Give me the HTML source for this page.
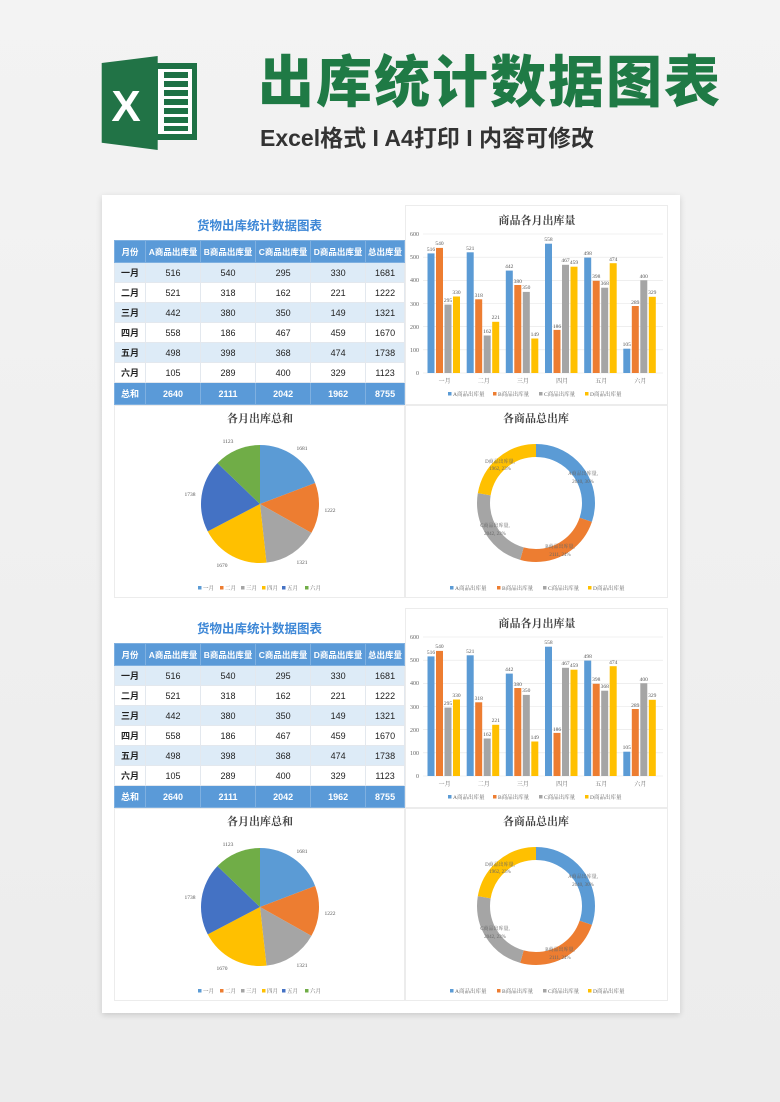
<!DOCTYPE html>
<html><head><meta charset="utf-8"><style>
*{margin:0;padding:0;box-sizing:border-box}
body{width:780px;height:1102px;background:linear-gradient(#f3f3f3,#ececec);position:relative;overflow:hidden;font-family:"Liberation Sans","Noto Sans CJK SC",sans-serif}
.abs{position:absolute}
.paper{left:102px;top:195px;width:578px;height:818px;background:#fff;box-shadow:0 2px 6px rgba(0,0,0,.15)}
.blk{position:absolute;left:0;width:780px;height:400px}
.ttl{position:absolute;left:114px;width:291px;text-align:center;font-size:12.5px;font-weight:bold;color:#3d87d6;top:10px}
table{position:absolute;left:114px;top:35px;width:291px;border-collapse:collapse;font-size:9px;color:#222}
td{text-align:center;height:20px;border:1px solid #e3e8ee;padding:0}
tr.h td,tr.t td{background:#5a9ad8;color:#fff;font-weight:bold;height:22px;border-color:#7fb0e0}
tr.h td{font-size:8.5px}
tr.a td{background:#ddebf7}
td:first-child{font-weight:bold}
svg text{font-family:"Liberation Serif","Noto Serif CJK SC",serif}
</style></head><body>
<svg class="abs" style="left:95px;top:50px" width="110" height="105" viewBox="95 50 110 105">
<rect x="150" y="63" width="47" height="77" fill="#1e7145"/>
<rect x="158" y="69" width="34" height="65" fill="#fff"/>
<g fill="#1e7145"><rect x="164" y="72" width="24" height="6"/><rect x="164" y="81" width="24" height="6"/><rect x="164" y="90" width="24" height="6"/><rect x="164" y="99" width="24" height="6"/><rect x="164" y="108" width="24" height="6"/><rect x="164" y="117" width="24" height="6"/><rect x="164" y="126" width="24" height="5"/></g>
<polygon points="101.7,63 157.7,56 157.7,150 101.7,142.7" fill="#217346"/>
<text x="126" y="121" font-size="44" fill="#fff" font-weight="bold" text-anchor="middle" style="font-family:'Liberation Sans',sans-serif">X</text>
</svg>
<div class="abs" style="left:258px;top:50px;font-size:56px;font-weight:900;color:#1f7a45;letter-spacing:2px;font-family:'Liberation Sans','Noto Sans CJK SC',sans-serif;line-height:66px">出库统计数据图表</div>
<div class="abs" style="left:260px;top:122px;font-size:23px;font-weight:bold;color:#333;line-height:32px">Excel格式 I A4打印 I 内容可修改</div>
<div class="abs paper"></div>

<div class="blk" style="top:205px">
<div class="ttl">货物出库统计数据图表</div>
<table>
<tr class="h"><td style="width:31px">月份</td><td>A商品出库量</td><td>B商品出库量</td><td>C商品出库量</td><td>D商品出库量</td><td>总出库量</td></tr>
<tr class="a"><td>一月</td><td>516</td><td>540</td><td>295</td><td>330</td><td>1681</td></tr>
<tr><td>二月</td><td>521</td><td>318</td><td>162</td><td>221</td><td>1222</td></tr>
<tr class="a"><td>三月</td><td>442</td><td>380</td><td>350</td><td>149</td><td>1321</td></tr>
<tr><td>四月</td><td>558</td><td>186</td><td>467</td><td>459</td><td>1670</td></tr>
<tr class="a"><td>五月</td><td>498</td><td>398</td><td>368</td><td>474</td><td>1738</td></tr>
<tr><td>六月</td><td>105</td><td>289</td><td>400</td><td>329</td><td>1123</td></tr>
<tr class="t"><td>总和</td><td>2640</td><td>2111</td><td>2042</td><td>1962</td><td>8755</td></tr>
</table>
<svg class="abs" style="left:405px;top:0" width="263" height="200">
<rect x="0.5" y="0.5" width="262" height="199" fill="none" stroke="#ececec"/>
<text x="132" y="19" font-size="11" text-anchor="middle" fill="#444" font-weight="bold">商品各月出库量</text>
<g stroke="#e4e4e4" stroke-width="0.6"><line x1="18" x2="258" y1="168" y2="168"/><line x1="18" x2="258" y1="144.8" y2="144.8"/><line x1="18" x2="258" y1="121.7" y2="121.7"/><line x1="18" x2="258" y1="98.5" y2="98.5"/><line x1="18" x2="258" y1="75.3" y2="75.3"/><line x1="18" x2="258" y1="52.2" y2="52.2"/><line x1="18" x2="258" y1="29" y2="29"/></g>
<g font-size="6" fill="#666" text-anchor="end" style="font-family:'Liberation Sans',sans-serif"><text x="14" y="170">0</text><text x="14" y="147">100</text><text x="14" y="124">200</text><text x="14" y="101">300</text><text x="14" y="77">400</text><text x="14" y="54">500</text><text x="14" y="31">600</text></g>
<g fill="#5b9bd5"><rect x="22.5" y="48.4" width="7" height="119.6"/><rect x="61.7" y="47.3" width="7" height="120.7"/><rect x="100.8" y="65.6" width="7" height="102.4"/><rect x="140" y="38.7" width="7" height="129.3"/><rect x="179.2" y="52.6" width="7" height="115.4"/><rect x="218.3" y="143.7" width="7" height="24.3"/></g>
<g fill="#ed7d31"><rect x="31" y="42.9" width="7" height="125.1"/><rect x="70.2" y="94.3" width="7" height="73.7"/><rect x="109.3" y="80" width="7" height="88"/><rect x="148.5" y="124.9" width="7" height="43.1"/><rect x="187.7" y="75.8" width="7" height="92.2"/><rect x="226.8" y="101" width="7" height="67"/></g>
<g fill="#a5a5a5"><rect x="39.5" y="99.6" width="7" height="68.4"/><rect x="78.7" y="130.5" width="7" height="37.5"/><rect x="117.8" y="86.9" width="7" height="81.1"/><rect x="157" y="59.8" width="7" height="108.2"/><rect x="196.2" y="82.7" width="7" height="85.3"/><rect x="235.3" y="75.3" width="7" height="92.7"/></g>
<g fill="#ffc000"><rect x="48" y="91.5" width="7" height="76.5"/><rect x="87.2" y="116.8" width="7" height="51.2"/><rect x="126.3" y="133.5" width="7" height="34.5"/><rect x="165.5" y="61.7" width="7" height="106.3"/><rect x="204.7" y="58.2" width="7" height="109.8"/><rect x="243.8" y="91.8" width="7" height="76.2"/></g>
<g font-size="5.5" fill="#555" text-anchor="middle" style="font-family:'Liberation Sans',sans-serif">
<text x="26" y="46">516</text><text x="65.2" y="45">521</text><text x="104.3" y="63">442</text><text x="143.5" y="36">558</text><text x="182.7" y="50">498</text><text x="221.8" y="141">105</text>
<text x="34.5" y="40">540</text><text x="73.7" y="92">318</text><text x="112.8" y="78">380</text><text x="152" y="123">186</text><text x="191.2" y="73">398</text><text x="230.3" y="99">289</text>
<text x="43" y="97">295</text><text x="82.2" y="128">162</text><text x="121.3" y="84">350</text><text x="160.5" y="57">467</text><text x="199.7" y="80">368</text><text x="238.8" y="73">400</text>
<text x="51.5" y="89">330</text><text x="90.7" y="114">221</text><text x="129.8" y="131">149</text><text x="169" y="59">459</text><text x="208.2" y="56">474</text><text x="247.3" y="89">329</text></g>
<g font-size="6" fill="#666" text-anchor="middle"><text x="39.6" y="178">一月</text><text x="78.8" y="178">二月</text><text x="117.9" y="178">三月</text><text x="157.1" y="178">四月</text><text x="196.3" y="178">五月</text><text x="235.4" y="178">六月</text></g>
<g font-size="5.5" fill="#666"><rect x="43" y="187" width="3.5" height="3.5" fill="#5b9bd5"/><text x="48" y="191">A商品出库量</text><rect x="88" y="187" width="3.5" height="3.5" fill="#ed7d31"/><text x="93" y="191">B商品出库量</text><rect x="134" y="187" width="3.5" height="3.5" fill="#a5a5a5"/><text x="139" y="191">C商品出库量</text><rect x="180" y="187" width="3.5" height="3.5" fill="#ffc000"/><text x="185" y="191">D商品出库量</text></g>
</svg>
<svg class="abs" style="left:114px;top:200px" width="291" height="193">
<rect x="0.5" y="0.5" width="290" height="192" fill="none" stroke="#ececec"/>
<text x="146" y="17" font-size="11" text-anchor="middle" fill="#444" font-weight="bold">各月出库总和</text>
<path d="M146,99L146,40A59,59 0 0 1 201.12,77.97Z" fill="#5b9bd5"/>
<path d="M146,99L201.12,77.97A59,59 0 0 1 197.42,127.93Z" fill="#ed7d31"/>
<path d="M146,99L197.42,127.93A59,59 0 0 1 152.48,157.64Z" fill="#a5a5a5"/>
<path d="M146,99L152.48,157.64A59,59 0 0 1 93.73,126.38Z" fill="#ffc000"/>
<path d="M146,99L93.73,126.38A59,59 0 0 1 103.42,58.16Z" fill="#4472c4"/>
<path d="M146,99L103.42,58.16A59,59 0 0 1 146,40Z" fill="#70ad47"/>
<g font-size="5.5" fill="#555" text-anchor="middle" style="font-family:'Liberation Sans',sans-serif"><text x="188" y="45">1681</text><text x="216" y="107">1222</text><text x="188" y="159">1321</text><text x="108" y="162">1670</text><text x="76" y="91">1738</text><text x="114" y="38">1123</text></g>
<g font-size="5.5" fill="#666"><rect x="84" y="181" width="3.5" height="3.5" fill="#5b9bd5"/><text x="89" y="185">一月</text><rect x="106" y="181" width="3.5" height="3.5" fill="#ed7d31"/><text x="111" y="185">二月</text><rect x="127" y="181" width="3.5" height="3.5" fill="#a5a5a5"/><text x="132" y="185">三月</text><rect x="148" y="181" width="3.5" height="3.5" fill="#ffc000"/><text x="153" y="185">四月</text><rect x="168" y="181" width="3.5" height="3.5" fill="#4472c4"/><text x="173" y="185">五月</text><rect x="191" y="181" width="3.5" height="3.5" fill="#70ad47"/><text x="196" y="185">六月</text></g>
</svg>
<svg class="abs" style="left:405px;top:200px" width="263" height="193">
<rect x="0.5" y="0.5" width="262" height="192" fill="none" stroke="#ececec"/>
<text x="131" y="17" font-size="11" text-anchor="middle" fill="#444" font-weight="bold">各商品总出库</text>
<g transform="rotate(-90 131 98)" fill="none" stroke-width="13">
<circle cx="131" cy="98" r="52.5" stroke="#5b9bd5" stroke-dasharray="99.47 400"/>
<circle cx="131" cy="98" r="52.5" stroke="#ed7d31" stroke-dasharray="0 99.47 79.54 400"/>
<circle cx="131" cy="98" r="52.5" stroke="#a5a5a5" stroke-dasharray="0 179.01 76.94 400"/>
<circle cx="131" cy="98" r="52.5" stroke="#ffc000" stroke-dasharray="0 255.95 73.92 400"/>
</g>
<g font-size="5" fill="#666" text-anchor="middle"><text x="95" y="58">D商品出库量,</text><text x="95" y="65">1962, 23%</text><text x="178" y="70">A商品出库量,</text><text x="178" y="78">2640, 30%</text><text x="90" y="122">C商品出库量,</text><text x="90" y="130">2042, 23%</text><text x="155" y="143">B商品出库量,</text><text x="155" y="151">2111, 24%</text></g>
<g font-size="5.5" fill="#666"><rect x="45" y="181" width="3.5" height="3.5" fill="#5b9bd5"/><text x="50" y="185">A商品出库量</text><rect x="92" y="181" width="3.5" height="3.5" fill="#ed7d31"/><text x="97" y="185">B商品出库量</text><rect x="138" y="181" width="3.5" height="3.5" fill="#a5a5a5"/><text x="143" y="185">C商品出库量</text><rect x="183" y="181" width="3.5" height="3.5" fill="#ffc000"/><text x="188" y="185">D商品出库量</text></g>
</svg>
</div>

<div class="blk" style="top:608px">
<div class="ttl">货物出库统计数据图表</div>
<table>
<tr class="h"><td style="width:31px">月份</td><td>A商品出库量</td><td>B商品出库量</td><td>C商品出库量</td><td>D商品出库量</td><td>总出库量</td></tr>
<tr class="a"><td>一月</td><td>516</td><td>540</td><td>295</td><td>330</td><td>1681</td></tr>
<tr><td>二月</td><td>521</td><td>318</td><td>162</td><td>221</td><td>1222</td></tr>
<tr class="a"><td>三月</td><td>442</td><td>380</td><td>350</td><td>149</td><td>1321</td></tr>
<tr><td>四月</td><td>558</td><td>186</td><td>467</td><td>459</td><td>1670</td></tr>
<tr class="a"><td>五月</td><td>498</td><td>398</td><td>368</td><td>474</td><td>1738</td></tr>
<tr><td>六月</td><td>105</td><td>289</td><td>400</td><td>329</td><td>1123</td></tr>
<tr class="t"><td>总和</td><td>2640</td><td>2111</td><td>2042</td><td>1962</td><td>8755</td></tr>
</table>
<svg class="abs" style="left:405px;top:0" width="263" height="200">
<rect x="0.5" y="0.5" width="262" height="199" fill="none" stroke="#ececec"/>
<text x="132" y="19" font-size="11" text-anchor="middle" fill="#444" font-weight="bold">商品各月出库量</text>
<g stroke="#e4e4e4" stroke-width="0.6"><line x1="18" x2="258" y1="168" y2="168"/><line x1="18" x2="258" y1="144.8" y2="144.8"/><line x1="18" x2="258" y1="121.7" y2="121.7"/><line x1="18" x2="258" y1="98.5" y2="98.5"/><line x1="18" x2="258" y1="75.3" y2="75.3"/><line x1="18" x2="258" y1="52.2" y2="52.2"/><line x1="18" x2="258" y1="29" y2="29"/></g>
<g font-size="6" fill="#666" text-anchor="end" style="font-family:'Liberation Sans',sans-serif"><text x="14" y="170">0</text><text x="14" y="147">100</text><text x="14" y="124">200</text><text x="14" y="101">300</text><text x="14" y="77">400</text><text x="14" y="54">500</text><text x="14" y="31">600</text></g>
<g fill="#5b9bd5"><rect x="22.5" y="48.4" width="7" height="119.6"/><rect x="61.7" y="47.3" width="7" height="120.7"/><rect x="100.8" y="65.6" width="7" height="102.4"/><rect x="140" y="38.7" width="7" height="129.3"/><rect x="179.2" y="52.6" width="7" height="115.4"/><rect x="218.3" y="143.7" width="7" height="24.3"/></g>
<g fill="#ed7d31"><rect x="31" y="42.9" width="7" height="125.1"/><rect x="70.2" y="94.3" width="7" height="73.7"/><rect x="109.3" y="80" width="7" height="88"/><rect x="148.5" y="124.9" width="7" height="43.1"/><rect x="187.7" y="75.8" width="7" height="92.2"/><rect x="226.8" y="101" width="7" height="67"/></g>
<g fill="#a5a5a5"><rect x="39.5" y="99.6" width="7" height="68.4"/><rect x="78.7" y="130.5" width="7" height="37.5"/><rect x="117.8" y="86.9" width="7" height="81.1"/><rect x="157" y="59.8" width="7" height="108.2"/><rect x="196.2" y="82.7" width="7" height="85.3"/><rect x="235.3" y="75.3" width="7" height="92.7"/></g>
<g fill="#ffc000"><rect x="48" y="91.5" width="7" height="76.5"/><rect x="87.2" y="116.8" width="7" height="51.2"/><rect x="126.3" y="133.5" width="7" height="34.5"/><rect x="165.5" y="61.7" width="7" height="106.3"/><rect x="204.7" y="58.2" width="7" height="109.8"/><rect x="243.8" y="91.8" width="7" height="76.2"/></g>
<g font-size="5.5" fill="#555" text-anchor="middle" style="font-family:'Liberation Sans',sans-serif">
<text x="26" y="46">516</text><text x="65.2" y="45">521</text><text x="104.3" y="63">442</text><text x="143.5" y="36">558</text><text x="182.7" y="50">498</text><text x="221.8" y="141">105</text>
<text x="34.5" y="40">540</text><text x="73.7" y="92">318</text><text x="112.8" y="78">380</text><text x="152" y="123">186</text><text x="191.2" y="73">398</text><text x="230.3" y="99">289</text>
<text x="43" y="97">295</text><text x="82.2" y="128">162</text><text x="121.3" y="84">350</text><text x="160.5" y="57">467</text><text x="199.7" y="80">368</text><text x="238.8" y="73">400</text>
<text x="51.5" y="89">330</text><text x="90.7" y="114">221</text><text x="129.8" y="131">149</text><text x="169" y="59">459</text><text x="208.2" y="56">474</text><text x="247.3" y="89">329</text></g>
<g font-size="6" fill="#666" text-anchor="middle"><text x="39.6" y="178">一月</text><text x="78.8" y="178">二月</text><text x="117.9" y="178">三月</text><text x="157.1" y="178">四月</text><text x="196.3" y="178">五月</text><text x="235.4" y="178">六月</text></g>
<g font-size="5.5" fill="#666"><rect x="43" y="187" width="3.5" height="3.5" fill="#5b9bd5"/><text x="48" y="191">A商品出库量</text><rect x="88" y="187" width="3.5" height="3.5" fill="#ed7d31"/><text x="93" y="191">B商品出库量</text><rect x="134" y="187" width="3.5" height="3.5" fill="#a5a5a5"/><text x="139" y="191">C商品出库量</text><rect x="180" y="187" width="3.5" height="3.5" fill="#ffc000"/><text x="185" y="191">D商品出库量</text></g>
</svg>
<svg class="abs" style="left:114px;top:200px" width="291" height="193">
<rect x="0.5" y="0.5" width="290" height="192" fill="none" stroke="#ececec"/>
<text x="146" y="17" font-size="11" text-anchor="middle" fill="#444" font-weight="bold">各月出库总和</text>
<path d="M146,99L146,40A59,59 0 0 1 201.12,77.97Z" fill="#5b9bd5"/>
<path d="M146,99L201.12,77.97A59,59 0 0 1 197.42,127.93Z" fill="#ed7d31"/>
<path d="M146,99L197.42,127.93A59,59 0 0 1 152.48,157.64Z" fill="#a5a5a5"/>
<path d="M146,99L152.48,157.64A59,59 0 0 1 93.73,126.38Z" fill="#ffc000"/>
<path d="M146,99L93.73,126.38A59,59 0 0 1 103.42,58.16Z" fill="#4472c4"/>
<path d="M146,99L103.42,58.16A59,59 0 0 1 146,40Z" fill="#70ad47"/>
<g font-size="5.5" fill="#555" text-anchor="middle" style="font-family:'Liberation Sans',sans-serif"><text x="188" y="45">1681</text><text x="216" y="107">1222</text><text x="188" y="159">1321</text><text x="108" y="162">1670</text><text x="76" y="91">1738</text><text x="114" y="38">1123</text></g>
<g font-size="5.5" fill="#666"><rect x="84" y="181" width="3.5" height="3.5" fill="#5b9bd5"/><text x="89" y="185">一月</text><rect x="106" y="181" width="3.5" height="3.5" fill="#ed7d31"/><text x="111" y="185">二月</text><rect x="127" y="181" width="3.5" height="3.5" fill="#a5a5a5"/><text x="132" y="185">三月</text><rect x="148" y="181" width="3.5" height="3.5" fill="#ffc000"/><text x="153" y="185">四月</text><rect x="168" y="181" width="3.5" height="3.5" fill="#4472c4"/><text x="173" y="185">五月</text><rect x="191" y="181" width="3.5" height="3.5" fill="#70ad47"/><text x="196" y="185">六月</text></g>
</svg>
<svg class="abs" style="left:405px;top:200px" width="263" height="193">
<rect x="0.5" y="0.5" width="262" height="192" fill="none" stroke="#ececec"/>
<text x="131" y="17" font-size="11" text-anchor="middle" fill="#444" font-weight="bold">各商品总出库</text>
<g transform="rotate(-90 131 98)" fill="none" stroke-width="13">
<circle cx="131" cy="98" r="52.5" stroke="#5b9bd5" stroke-dasharray="99.47 400"/>
<circle cx="131" cy="98" r="52.5" stroke="#ed7d31" stroke-dasharray="0 99.47 79.54 400"/>
<circle cx="131" cy="98" r="52.5" stroke="#a5a5a5" stroke-dasharray="0 179.01 76.94 400"/>
<circle cx="131" cy="98" r="52.5" stroke="#ffc000" stroke-dasharray="0 255.95 73.92 400"/>
</g>
<g font-size="5" fill="#666" text-anchor="middle"><text x="95" y="58">D商品出库量,</text><text x="95" y="65">1962, 23%</text><text x="178" y="70">A商品出库量,</text><text x="178" y="78">2640, 30%</text><text x="90" y="122">C商品出库量,</text><text x="90" y="130">2042, 23%</text><text x="155" y="143">B商品出库量,</text><text x="155" y="151">2111, 24%</text></g>
<g font-size="5.5" fill="#666"><rect x="45" y="181" width="3.5" height="3.5" fill="#5b9bd5"/><text x="50" y="185">A商品出库量</text><rect x="92" y="181" width="3.5" height="3.5" fill="#ed7d31"/><text x="97" y="185">B商品出库量</text><rect x="138" y="181" width="3.5" height="3.5" fill="#a5a5a5"/><text x="143" y="185">C商品出库量</text><rect x="183" y="181" width="3.5" height="3.5" fill="#ffc000"/><text x="188" y="185">D商品出库量</text></g>
</svg>
</div>
</body></html>
